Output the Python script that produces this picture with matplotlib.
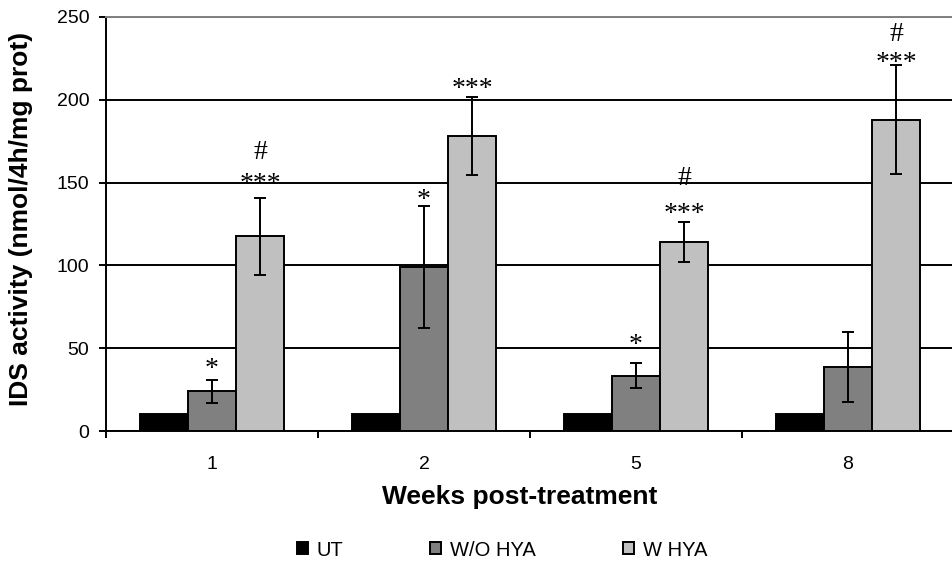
import matplotlib
matplotlib.use("Agg")
import matplotlib.pyplot as plt
import numpy as np

weeks = ["1", "2", "5", "8"]
series_names = ["UT", "W/O HYA", "W HYA"]
ut = [10, 10, 10, 10]
wo_hya = [24, 99, 33.5, 38.5]
wo_hya_err = [7, 37, 7.4, 21]
w_hya = [117.5, 178, 114, 188]
w_hya_err = [23.5, 23.5, 12, 33]

# annotation labels (value where glyph centre sits)
wo_star_y = [40.5, 143, 55, None]
w_star_y = [152, 209.6, 134, 225]
w_hash_y = [170, None, 154, 241]

colors = ["#000000", "#808080", "#C0C0C0"]

plt.rcParams['font.family'] = ['Liberation Sans', 'DejaVu Sans']

fig = plt.figure(figsize=(9.52, 5.69), dpi=100)
W, H = 952, 569
ax_left, ax_right, ax_top, ax_bot = 106, 954, 17, 431
ax = fig.add_axes([ax_left / W, 1 - ax_bot / H, (ax_right - ax_left) / W, (ax_bot - ax_top) / H])

x = np.arange(len(weeks)) + 0.5
bw = 0.227
lw = 1.4
bars = []
for i, (vals, errs) in enumerate([(ut, None), (wo_hya, wo_hya_err), (w_hya, w_hya_err)]):
    b = ax.bar(x + (i - 1) * bw, vals, bw, color=colors[i], edgecolor='black', linewidth=lw,
               label=series_names[i], zorder=3)
    bars.append(b)
    if errs is not None:
        ax.errorbar(x + (i - 1) * bw, vals, yerr=errs, fmt='none', ecolor='black',
                    elinewidth=lw, capsize=4.3, capthick=lw, zorder=4)

serif = ['Liberation Serif', 'DejaVu Serif']
fs_ann = 20
def put(xp, yv, txt, off):
    ax.annotate(txt, (xp, yv), xytext=(0, -off), textcoords='offset points',
                ha='center', va='baseline', fontsize=fs_ann, family=serif, zorder=5,
                annotation_clip=False)

for k in range(len(weeks)):
    if wo_star_y[k] is not None:
        put(x[k], wo_star_y[k], "*", 9)
    if w_star_y[k] is not None:
        put(x[k] + bw, w_star_y[k], "***", 8.5)
    if w_hash_y[k] is not None:
        put(x[k] + bw, w_hash_y[k], "#", 6.5)

ax.set_xlim(0, 4)
ax.set_ylim(0, 250)
ax.set_yticks([0, 50, 100, 150, 200, 250])
ax.yaxis.grid(True, color='black', linewidth=lw, zorder=0)
ax.set_axisbelow(True)
ax.tick_params(axis='y', labelsize=14, length=5, width=lw, pad=7, direction='out')
ax.set_xticks(x)
ax.set_xticklabels(weeks)
ax.set_xticks(np.arange(0, 5), minor=True)
ax.tick_params(axis='x', which='major', length=0, labelsize=14, pad=18)
ax.tick_params(axis='x', which='minor', length=5, width=lw, direction='out')
for s in ['left', 'bottom']:
    ax.spines[s].set_linewidth(lw)
    ax.spines[s].set_color('black')
ax.spines['top'].set_color('#808080')
ax.spines['top'].set_linewidth(lw)
ax.spines['right'].set_visible(False)

fig.text(21 / W, 1 - 219 / H, "IDS activity (nmol/4h/mg prot)", rotation=90,
         ha='center', va='center', fontsize=19, fontweight='bold')
fig.text(520 / W, 1 - 497 / H, "Weeks post-treatment", ha='center', va='center',
         fontsize=19, fontweight='bold')

leg = fig.legend(handles=[b for b in bars], labels=series_names, loc='center',
                 bbox_to_anchor=(502 / W, 1 - 550 / H), ncol=3, frameon=False,
                 fontsize=14.5, handlelength=0.55, handleheight=0.55,
                 handletextpad=0.45, columnspacing=4.3, borderpad=0, borderaxespad=0)

fig.savefig("out.png", dpi=100)
